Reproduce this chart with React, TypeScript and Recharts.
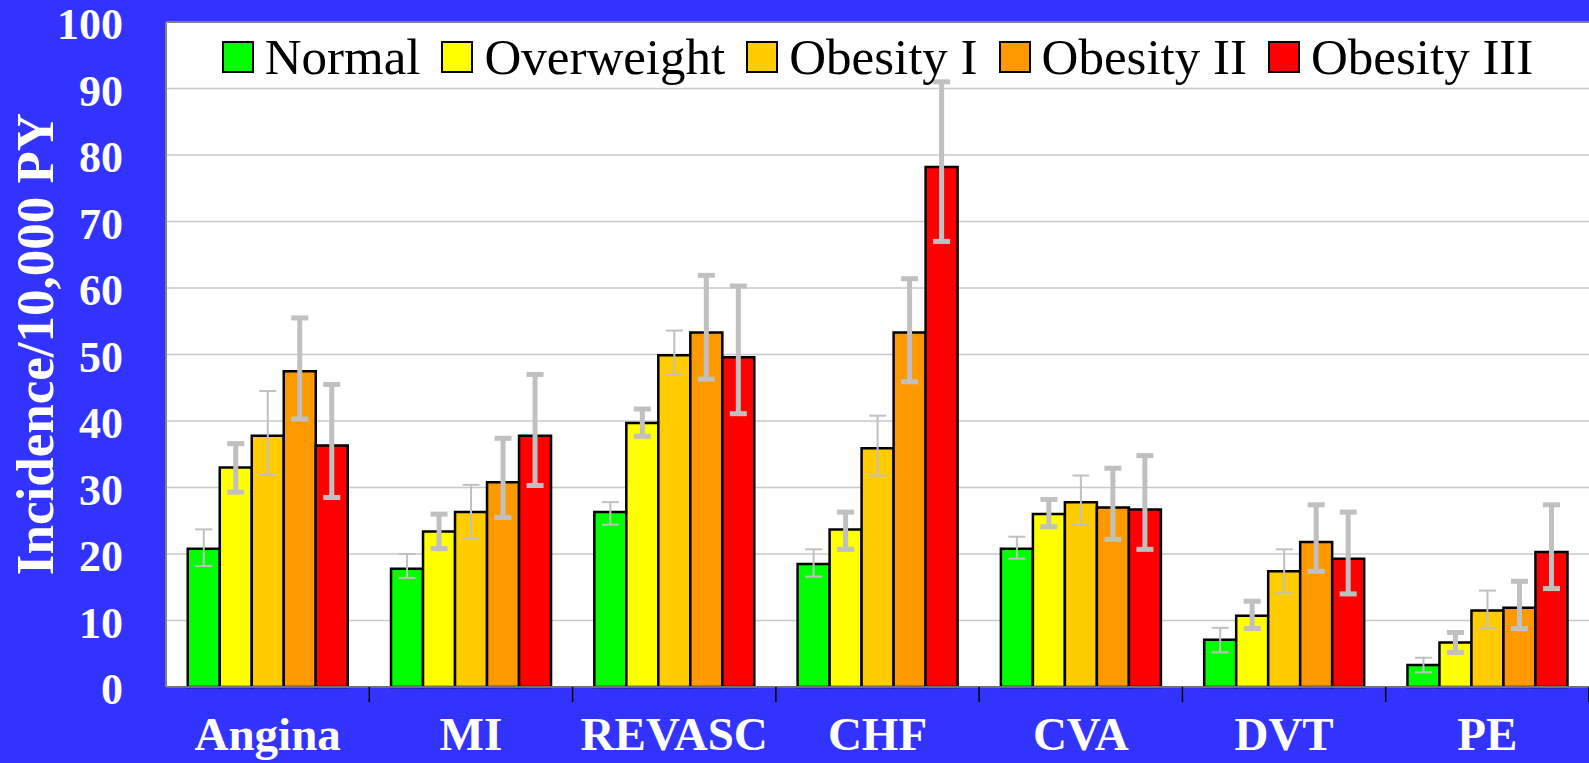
import { BarChart, Bar, XAxis, YAxis, CartesianGrid, Legend, ErrorBar, ReferenceLine } from 'recharts';

const W = 1589;
const H = 763;
const PLOT_LEFT = 166;
const PLOT_TOP = 22;
const X_AXIS_H = 76;
const BAND = (W - PLOT_LEFT) / 7;
const FONT = '"Liberation Serif", "Times New Roman", serif';

const categories = ['Angina', 'MI', 'REVASC', 'CHF', 'CVA', 'DVT', 'PE'];
const seriesNames = ['Normal', 'Overweight', 'Obesity I', 'Obesity II', 'Obesity III'];
const seriesKeys = ['normal', 'overweight', 'obesity1', 'obesity2', 'obesity3'];
const seriesColors = ['#00ff00', '#ffff00', '#ffcc00', '#ff9900', '#ff0000'];
const errorStrokes = [2, 5, 2, 5, 5];
const yTicks = [0, 10, 20, 30, 40, 50, 60, 70, 80, 90, 100];

// incidence per 10,000 PY, with the lower / upper ends of the error bars
const normal = [20.8, 17.8, 26.3, 18.5, 20.8, 7.1, 3.3];
const normalLow = [18.2, 16.4, 24.4, 16.6, 19.3, 5.2, 2.2];
const normalHigh = [23.7, 20.0, 27.8, 20.7, 22.6, 8.9, 4.4];

const overweight = [33.0, 23.4, 39.7, 23.7, 26.0, 10.7, 6.7];
const overweightLow = [29.3, 20.8, 37.7, 20.7, 24.1, 8.8, 5.2];
const overweightHigh = [36.6, 26.0, 41.8, 26.3, 28.2, 12.9, 8.2];

const obesity1 = [37.8, 26.3, 49.9, 35.9, 27.8, 17.4, 11.5];
const obesity1Low = [31.9, 22.3, 47.0, 31.8, 24.4, 14.1, 8.9];
const obesity1High = [44.5, 30.4, 53.6, 40.8, 31.8, 20.7, 14.5];

const obesity2 = [47.5, 30.8, 53.3, 53.3, 27.0, 21.8, 11.9];
const obesity2Low = [40.3, 25.5, 46.3, 45.9, 22.2, 17.4, 8.8];
const obesity2High = [55.5, 37.4, 61.9, 61.4, 32.9, 27.4, 15.9];

const obesity3 = [36.3, 37.8, 49.6, 78.2, 26.7, 19.3, 20.3];
const obesity3Low = [28.5, 30.3, 41.1, 67.0, 20.7, 14.0, 14.8];
const obesity3High = [45.5, 47.0, 60.3, 91.0, 34.8, 26.3, 27.4];

const series = [
  [normal, normalLow, normalHigh],
  [overweight, overweightLow, overweightHigh],
  [obesity1, obesity1Low, obesity1High],
  [obesity2, obesity2Low, obesity2High],
  [obesity3, obesity3Low, obesity3High],
];

const data = categories.map((name, i) => {
  const row: Record<string, any> = { name };
  series.forEach(([v, lo, hi], s) => {
    const k = seriesKeys[s];
    row[k] = v[i];
    row[k + 'Err'] = [+(v[i] - lo[i]).toFixed(2), +(hi[i] - v[i]).toFixed(2)];
  });
  return row;
});

function CategoryTick(props: any) {
  const { x, y, payload } = props;
  const bx = x + BAND / 2;
  return (
    <g>
      <line x1={bx} y1={y} x2={bx} y2={y + 15} stroke="#000" strokeWidth={1.5} />
      <text x={x} y={y + 63} textAnchor="middle" fill="#fff" fontFamily={FONT} fontWeight="bold" fontSize={47}>
        {payload.value}
      </text>
    </g>
  );
}

function ValueTick(props: any) {
  const { x, y, payload } = props;
  return (
    <text x={x} y={y + 17} textAnchor="end" fill="#fff" fontFamily={FONT} fontWeight="bold" fontSize={44}>
      {payload.value}
    </text>
  );
}

function LegendBox() {
  return (
    <div style={{ display: 'flex', justifyContent: 'center', gap: 21, fontFamily: FONT, fontSize: 51, color: '#000', lineHeight: '52px' }}>
      {seriesNames.map((n, i) => (
        <div key={n} style={{ display: 'flex', alignItems: 'center' }}>
          <span style={{ width: 28, height: 28, background: seriesColors[i], border: '2px solid #000', marginRight: 11, display: 'inline-block' }} />
          <span>{n}</span>
        </div>
      ))}
    </div>
  );
}

export default function App() {
  return (
    <div style={{ position: 'fixed', left: 0, top: 0, width: W, height: H, background: '#3333ff' }}>
      <BarChart
        width={W}
        height={H}
        data={data}
        margin={{ top: PLOT_TOP, right: 0, bottom: 0, left: 0 }}
        barCategoryGap="10.7%"
        barGap={0}
      >
        <CartesianGrid vertical={false} stroke="#c8c8c8" strokeWidth={1.5} fill="#ffffff" />
        <XAxis
          dataKey="name"
          height={X_AXIS_H}
          axisLine={{ stroke: '#707070', strokeWidth: 2 }}
          tickLine={false}
          tickSize={0}
          tickMargin={0}
          interval={0}
          tick={<CategoryTick />}
        />
        <YAxis
          width={PLOT_LEFT}
          domain={[0, 100]}
          ticks={yTicks}
          interval={0}
          axisLine={{ stroke: '#808080', strokeWidth: 2 }}
          tickLine={false}
          tickSize={0}
          tickMargin={43}
          tick={<ValueTick />}
          label={{
            content: () => (
              <text
                transform="translate(53,344) rotate(-90)"
                textAnchor="middle"
                fill="#fff"
                fontFamily={FONT}
                fontWeight="bold"
                fontSize={53}
              >
                Incidence/10,000 PY
              </text>
            ),
          }}
        />
        <ReferenceLine y={100} stroke="#808080" strokeWidth={2} />
        <Legend
          verticalAlign="middle"
          align="center"
          content={<LegendBox />}
          wrapperStyle={{ top: 31, left: PLOT_LEFT, width: W - PLOT_LEFT }}
        />
        {seriesKeys.map((k, i) => (
          <Bar
            key={k}
            dataKey={k}
            name={seriesNames[i]}
            fill={seriesColors[i]}
            stroke="#000"
            strokeWidth={2.5}
            isAnimationActive={false}
          >
            <ErrorBar
              dataKey={k + 'Err'}
              direction="y"
              width={8.5}
              stroke="#c0c0c0"
              strokeWidth={errorStrokes[i]}
              isAnimationActive={false}
            />
          </Bar>
        ))}
      </BarChart>
    </div>
  );
}
